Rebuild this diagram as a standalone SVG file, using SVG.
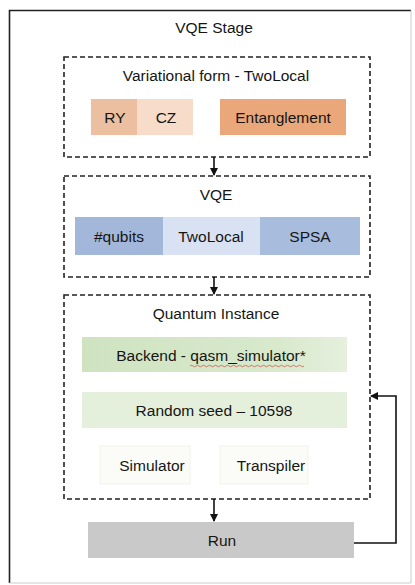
<svg xmlns="http://www.w3.org/2000/svg" width="415" height="585" viewBox="0 0 415 585">
<defs>
<style>
text{font-family:"Liberation Sans",Arial,sans-serif;font-size:15.5px;fill:#151515;text-anchor:middle}
.dash{fill:none;stroke:#222;stroke-width:1.6;stroke-dasharray:5,3}
.conn{fill:none;stroke:#111;stroke-width:1.6}
</style>
<marker id="ah" markerWidth="8" markerHeight="8" refX="7" refY="4" orient="auto" markerUnits="userSpaceOnUse">
<path d="M0,0 L8,4 L0,8 z" fill="#111"/>
</marker>
<linearGradient id="gBack" x1="0" x2="1" y1="0" y2="0">
<stop offset="0" stop-color="#cfe3c1"/><stop offset="0.75" stop-color="#d8e9cc"/><stop offset="1" stop-color="#e6f0de"/>
</linearGradient>
</defs>
<rect width="415" height="585" fill="#ffffff"/>
<g id="stage">
<path d="M9.5,583 L9.5,10.5 L411,10.5" fill="none" stroke="#222" stroke-width="1.6"/>
<path d="M411,10.5 L411,583 L9.5,583" fill="none" stroke="#ccc" stroke-width="1"/>
<text x="214" y="33">VQE Stage</text>
</g>
<g id="varform">
<rect class="dash" x="64" y="57" width="306" height="100"/>
<text x="216" y="81">Variational form - TwoLocal</text>
</g>
<g id="ry">
<rect x="91" y="99" width="46" height="36" fill="#ebbf9f"/>
<text x="115" y="123">RY</text>
</g>
<g id="cz">
<rect x="137" y="99" width="56" height="36" fill="#f6dcc9"/>
<text x="166" y="123">CZ</text>
</g>
<g id="entanglement">
<rect x="220" y="99" width="126" height="36" fill="#eaa77a"/>
<text x="283" y="123">Entanglement</text>
</g>
<g id="vqe">
<rect class="dash" x="64" y="176" width="306" height="101"/>
<text x="216" y="200">VQE</text>
</g>
<g id="qubits">
<rect x="75" y="217" width="88" height="38" fill="#a3b7da"/>
<text x="119" y="242">#qubits</text>
</g>
<g id="twolocal">
<rect x="163" y="217" width="97" height="38" fill="#d9e2f2"/>
<text x="211" y="242">TwoLocal</text>
</g>
<g id="spsa">
<rect x="260" y="217" width="100" height="38" fill="#a8bcdd"/>
<text x="310" y="242">SPSA</text>
</g>
<g id="quantum-instance">
<rect class="dash" x="64" y="295" width="306" height="204"/>
<text x="216" y="319">Quantum Instance</text>
</g>
<g id="backend">
<rect x="82" y="337" width="265" height="35" fill="url(#gBack)"/>
<text x="211" y="361">Backend - qasm_simulator*</text>
<path d="M190,366 q1.5,-1.5 3,0 t3,0 t3,0 t3,0 t3,0 t3,0 t3,0 t3,0 t3,0 t3,0 t3,0 t3,0 t3,0 t3,0 t3,0 t3,0 t3,0 t3,0 t3,0 t3,0 t3,0 t3,0 t3,0 t3,0 t3,0 t3,0 t3,0 t3,0 t3,0 t3,0 t3,0 t3,0 t3,0 t3,0 t3,0 t3,0 t3,0 t3,0" fill="none" stroke="#e05050" stroke-width="0.8"/>
</g>
<g id="seed">
<rect x="82" y="392" width="265" height="36" fill="#e4efdc"/>
<text x="214" y="416">Random seed – 10598</text>
</g>
<g id="simulator">
<rect x="100" y="446" width="90" height="38" fill="#fbfcf8" stroke="#f0f3ea" stroke-width="1"/>
<text x="152" y="471">Simulator</text>
</g>
<g id="transpiler">
<rect x="220" y="446" width="88" height="38" fill="#fbfcf8" stroke="#f0f3ea" stroke-width="1"/>
<text x="271" y="471">Transpiler</text>
</g>
<g id="run">
<rect x="88" y="522" width="266" height="36" fill="#c9c9c9"/>
<text x="222" y="546">Run</text>
</g>
<g id="connectors">
<path class="conn" d="M214,157 L214,175" marker-end="url(#ah)"/>
<path class="conn" d="M214,277 L214,294" marker-end="url(#ah)"/>
<path class="conn" d="M214,499 L214,521" marker-end="url(#ah)"/>
<path class="conn" d="M354,543 L396,543 L396,396 L371,396" marker-end="url(#ah)"/>
</g>
</svg>
